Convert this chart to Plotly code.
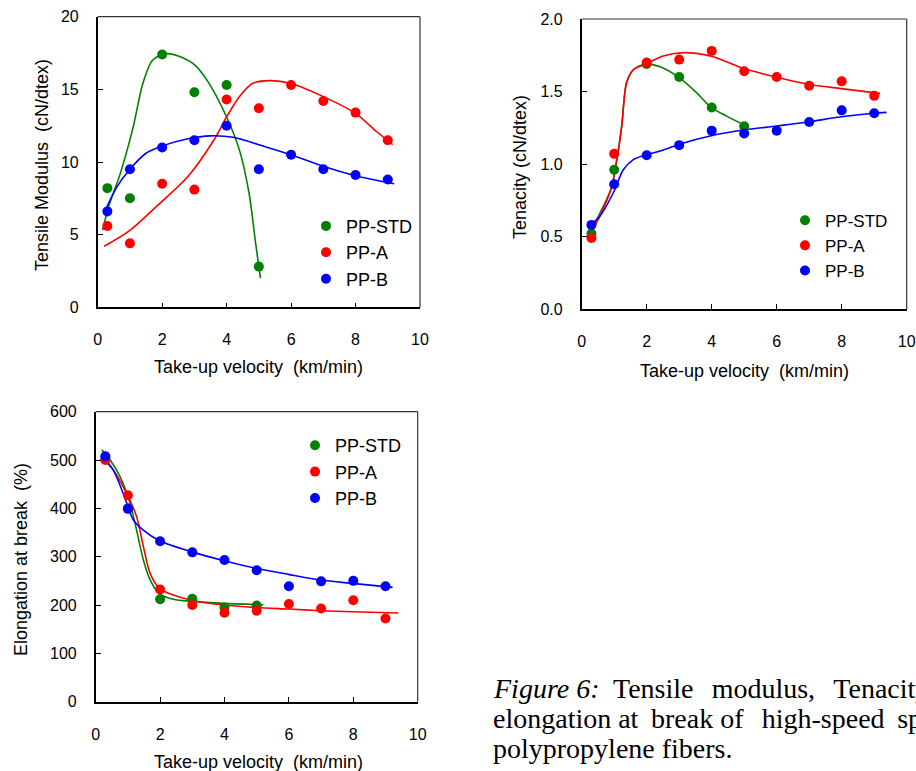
import plotly.graph_objects as go

W, H = 916, 771

# ---------------- data ----------------
speed = [0.3, 1, 2, 3, 4, 5, 6, 7, 8, 9]
speed_std = [0.3, 1, 2, 3, 4, 5]
series_names = ["PP-STD", "PP-A", "PP-B"]
series_colors = ["#008000", "#ff0000", "#0000ff"]

# Tensile modulus (cN/dtex)
mod_std = [8.2, 7.5, 17.4, 14.8, 15.3, 2.8]
mod_a = [5.6, 4.4, 8.5, 8.1, 14.3, 13.7, 15.3, 14.2, 13.4, 11.5]
mod_b = [6.6, 9.5, 11.0, 11.5, 12.5, 9.5, 10.5, 9.5, 9.1, 8.8]
# fitted curves
mod_std_fit_x = [0.15, 0.35, 0.7, 1.1, 1.4, 1.7, 2.1, 2.5, 3.0, 3.4, 4.0, 4.4, 4.7, 4.9, 5.05]
mod_std_fit_y = [5.3, 7.0, 9.2, 12.4, 15.4, 17.0, 17.45, 17.3, 16.7, 15.6, 13.1, 10.8, 7.8, 4.4, 2.0]
mod_a_fit_x = [0.2, 1.0, 1.8, 2.8, 3.6, 4.0, 4.4, 4.8, 5.35, 6.0, 7.0, 8.0, 8.65, 9.15]
mod_a_fit_y = [4.2, 5.3, 6.9, 9.0, 11.5, 13.1, 14.5, 15.4, 15.6, 15.4, 14.5, 13.35, 12.1, 11.2]
mod_b_fit_x = [0.2, 0.6, 1.0, 1.5, 2.0, 2.8, 3.5, 4.2, 5.2, 6.0, 7.0, 8.0, 9.2]
mod_b_fit_y = [6.5, 8.3, 9.5, 10.6, 11.1, 11.6, 11.8, 11.7, 11.05, 10.5, 9.7, 9.05, 8.5]

# Tenacity (cN/dtex)
ten_std = [0.52, 0.96, 1.69, 1.60, 1.39, 1.26]
ten_a = [0.49, 1.07, 1.70, 1.72, 1.78, 1.64, 1.60, 1.54, 1.57, 1.47]
ten_b = [0.58, 0.86, 1.06, 1.13, 1.23, 1.21, 1.23, 1.29, 1.37, 1.35]
ten_std_fit_x = [0.2, 0.56, 0.92, 1.08, 1.23, 1.38, 1.59, 1.97, 2.41, 3.0, 3.54, 3.98, 4.46, 5.08]
ten_std_fit_y = [0.51, 0.66, 0.84, 1.03, 1.26, 1.56, 1.65, 1.69, 1.67, 1.595, 1.49, 1.39, 1.33, 1.26]
ten_a_fit_x = [0.2, 0.56, 0.92, 1.08, 1.23, 1.38, 1.59, 1.97, 2.51, 3.13, 3.54, 4.05, 4.97, 5.97, 6.97, 7.98, 9.18]
ten_a_fit_y = [0.49, 0.64, 0.84, 1.03, 1.26, 1.56, 1.65, 1.69, 1.745, 1.768, 1.763, 1.74, 1.66, 1.60, 1.55, 1.52, 1.487]
ten_b_fit_x = [0.2, 0.56, 0.97, 1.28, 1.59, 1.97, 2.51, 3.03, 3.98, 4.97, 6.0, 6.97, 7.98, 8.98, 9.38]
ten_b_fit_y = [0.568, 0.64, 0.80, 0.96, 1.03, 1.062, 1.097, 1.138, 1.195, 1.234, 1.262, 1.29, 1.326, 1.35, 1.356]

# Elongation at break (%)
el_std = [501, 400, 212, 213, 195, 199]
el_a = [500, 427, 232, 200, 184, 188, 202, 193, 210, 172]
el_b = [508, 399, 332, 309, 293, 272, 239, 249, 250, 239]
el_std_fit_x = [0.19, 0.45, 0.76, 1.07, 1.27, 1.48, 1.69, 1.98, 2.41, 2.98, 3.99, 5.21]
el_std_fit_y = [521, 500, 465, 410, 355, 293, 252, 223, 212, 207.6, 203.4, 200.7]
el_a_fit_x = [0.19, 0.55, 0.96, 1.27, 1.48, 1.69, 1.98, 2.41, 2.98, 3.99, 4.99, 5.98, 6.99, 7.97, 9.40]
el_a_fit_y = [505, 479, 431, 383, 321, 265.5, 234.5, 220.7, 210, 200, 195, 191.7, 188.3, 186.2, 183.5]
el_b_fit_x = [0.19, 0.55, 0.97, 1.17, 1.48, 1.98, 2.98, 3.99, 4.99, 5.98, 6.99, 7.97, 9.22]
el_b_fit_y = [510, 479, 410, 376, 355, 333, 310, 291.7, 276, 263.5, 251.7, 244.8, 236.6]

x_ticks = [0, 2, 4, 6, 8, 10]
x_title = "Take-up velocity  (km/min)"

panels = [
    dict(xa="x", ya="y", legend="legend",
         xdom=(97.7, 420.0), ydom=(16.7, 307.3),
         yrange=[0, 20], ydtick=5, yfmt="d",
         pts=[(speed_std, mod_std), (speed, mod_a), (speed, mod_b)],
         fits=[(mod_std_fit_x, mod_std_fit_y), (mod_a_fit_x, mod_a_fit_y), (mod_b_fit_x, mod_b_fit_y)],
         ytitle="Tensile Modulus  (cN/dtex)", ytitle_pos=(42, 165), xtitle_pos=(258.5, 367),
         leg_pos=(306, 207.7), legsize=18),
    dict(xa="x2", ya="y2", legend="legend2",
         xdom=(581.7, 906.7), ydom=(19.0, 309.0),
         yrange=[0, 2.0], ydtick=0.5, yfmt=".1f",
         pts=[(speed_std, ten_std), (speed, ten_a), (speed, ten_b)],
         fits=[(ten_std_fit_x, ten_std_fit_y), (ten_a_fit_x, ten_a_fit_y), (ten_b_fit_x, ten_b_fit_y)],
         ytitle="Tenacity (cN/dtex)", ytitle_pos=(520, 167), xtitle_pos=(744, 371),
         leg_pos=(785, 202.7), legsize=17),
    dict(xa="x3", ya="y3", legend="legend3",
         xdom=(95.7, 417.7), ydom=(411.7, 701.7),
         yrange=[0, 600], ydtick=100, yfmt="d",
         pts=[(speed_std, el_std), (speed, el_a), (speed, el_b)],
         fits=[(el_std_fit_x, el_std_fit_y), (el_a_fit_x, el_a_fit_y), (el_b_fit_x, el_b_fit_y)],
         ytitle="Elongation at break  (%)", ytitle_pos=(21, 560), xtitle_pos=(258.5, 762),
         leg_pos=(295, 427), legsize=18),
]

FONT = "Liberation Sans, Arial, sans-serif"
fig = go.Figure()
layout = dict(width=W, height=H, margin=dict(l=0, r=0, t=0, b=0, autoexpand=False),
              paper_bgcolor="white", plot_bgcolor="white", showlegend=True,
              font=dict(family=FONT, color="black", size=16))
annotations = []
shapes = []

for i, p in enumerate(panels):
    # fitted curves first
    for (fx, fy), col in zip(p["fits"], series_colors):
        fig.add_trace(go.Scatter(x=fx, y=fy, mode="lines", xaxis=p["xa"], yaxis=p["ya"],
                                 line=dict(color=col, width=1.6, shape="spline", smoothing=0.8),
                                 showlegend=False, hoverinfo="skip"))
    for (px_, py_), col, name in zip(p["pts"], series_colors, series_names):
        fig.add_trace(go.Scatter(x=px_, y=py_, mode="markers", name=name,
                                 xaxis=p["xa"], yaxis=p["ya"], legend=p["legend"],
                                 marker=dict(color=col, size=10, line=dict(width=0))))
    sfx = "" if i == 0 else str(i + 1)
    xd = [p["xdom"][0] / W, p["xdom"][1] / W]
    yd = [1 - p["ydom"][1] / H, 1 - p["ydom"][0] / H]
    axis_common = dict(showline=True, linecolor="black", linewidth=1.6, mirror=False,
                       ticks="inside", ticklen=5, tickwidth=1, tickcolor="black",
                       showgrid=False, zeroline=False, automargin=False,
                       tickfont=dict(size=16, family=FONT))
    layout["xaxis" + sfx] = dict(domain=xd, range=[0, 10], tickvals=x_ticks,
                                 anchor="y" + sfx, ticklabelstandoff=17, **axis_common)
    layout["yaxis" + sfx] = dict(domain=yd, range=p["yrange"], dtick=p["ydtick"], tick0=0,
                                 tickformat=p["yfmt"], anchor="x" + sfx,
                                 ticklabelstandoff=14, **axis_common)
    # thinner top / right frame lines
    xr, yr = p["xa"] + " domain", p["ya"] + " domain"
    shapes.append(dict(type="line", xref=xr, yref=yr, x0=0, x1=1, y0=1, y1=1,
                       line=dict(color="#333333", width=1.2), layer="above"))
    shapes.append(dict(type="line", xref=xr, yref=yr, x0=1, x1=1, y0=0, y1=1,
                       line=dict(color="#333333", width=1.2), layer="above"))
    lx, ly = p["leg_pos"]
    layout[p["legend"]] = dict(x=lx / W, y=1 - ly / H, xanchor="left", yanchor="top",
                               xref="paper", yref="paper", bgcolor="rgba(0,0,0,0)",
                               font=dict(size=p["legsize"], family=FONT), itemwidth=30,
                               tracegroupgap=0)
    tx, ty = p["xtitle_pos"]
    annotations.append(dict(text=x_title, x=tx / W, y=1 - ty / H, xref="paper", yref="paper",
                            xanchor="center", yanchor="middle", showarrow=False,
                            font=dict(size=18, family=FONT)))
    yx, yy = p["ytitle_pos"]
    annotations.append(dict(text=p["ytitle"], x=yx / W, y=1 - yy / H, xref="paper", yref="paper",
                            xanchor="center", yanchor="middle", showarrow=False, textangle=-90,
                            font=dict(size=18, family=FONT)))

TS = "\u2009"
caption_lines = ["<i>Figure 6:</i>  Tensile " + TS + TS + "modulus, " + TS + TS + "Tenacity and",
                 "elongation at " + TS + "break of " + TS + TS + "high-speed " + TS + "spun",
                 "polypropylene fibers."]
caption_y = [688, 718, 748]
for line, cy in zip(caption_lines, caption_y):
    annotations.append(dict(text=line, x=491 / W, y=1 - cy / H, xref="paper", yref="paper",
                            xanchor="left", yanchor="middle", showarrow=False, align="left",
                            font=dict(size=28, family="Liberation Serif, Times New Roman, serif")))

layout["annotations"] = annotations
layout["shapes"] = shapes
fig.update_layout(**layout)
fig.write_html("out.html", config={"displayModeBar": False},
               post_script="document.body.style.margin='0px';document.body.style.overflow='hidden';")
